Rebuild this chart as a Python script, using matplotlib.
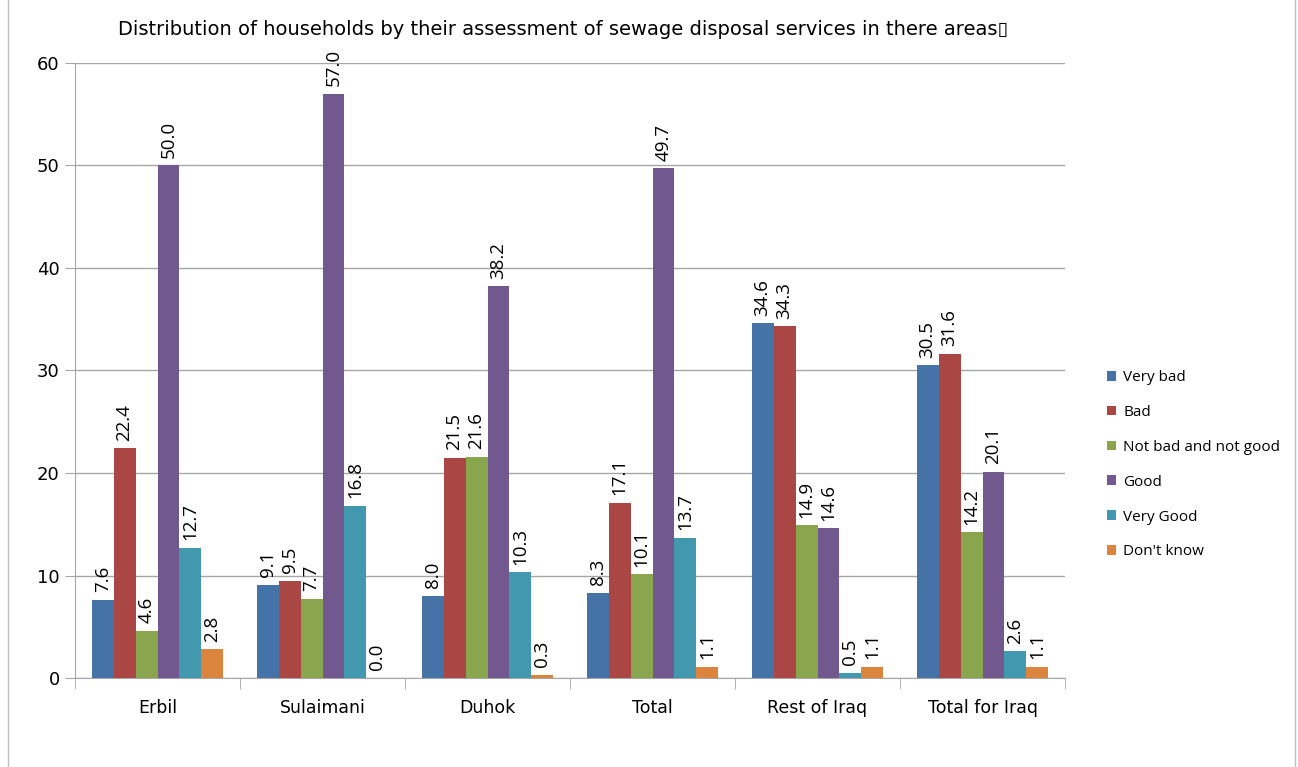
"""Households' assessment of sewage disposal services, grouped bar chart
"""
import matplotlib.pyplot as plt
import matplotlib.patches as mpatches
import numpy as np

regions = ['Erbil', 'Sulaimani', 'Duhok', 'Total', 'Rest of Iraq', 'Total for Iraq']
series_names = ['Very bad', 'Bad', 'Not bad and not good', 'Good', 'Very Good', "Don't know"]

very_bad = [7.6, 9.1, 8.0, 8.3, 34.6, 30.5]
bad = [22.4, 9.5, 21.5, 17.1, 34.3, 31.6]
not_bad_not_good = [4.6, 7.7, 21.6, 10.1, 14.9, 14.2]
good = [50.0, 57.0, 38.2, 49.7, 14.6, 20.1]
very_good = [12.7, 16.8, 10.3, 13.7, 0.5, 2.6]
dont_know = [2.8, 0.0, 0.3, 1.1, 1.1, 1.1]

colors = ['#4572A7', '#AA4643', '#89A54E', '#71588F', '#4198AF', '#DB843D']
series = [very_bad, bad, not_bad_not_good, good, very_good, dont_know]

fig = plt.figure(figsize=(12.98, 7.67), dpi=100)
ax = fig.add_axes([0.0578, 0.116, 0.7627, 0.802])

# outer chart frame
fig.patches.append(mpatches.Rectangle((0.006, -0.01), 0.992, 1.02, transform=fig.transFigure,
                                      fill=False, edgecolor='#bfbfbf', linewidth=1))

x = np.arange(len(regions))
width = 0.133
for i, (vals, name, col) in enumerate(zip(series, series_names, colors)):
    pos = x + (i - 2.5) * width
    ax.bar(pos, vals, width=width, color=col, label=name, zorder=3)
    for px, v in zip(pos, vals):
        ax.annotate(f'{v:.1f}', (px, v), xytext=(0, 5.5), textcoords='offset points',
                    rotation=90, ha='center', va='bottom', fontsize=13.5,
                    family='Open Sans', color='black')

ax.set_xlim(-0.5, len(regions) - 0.5)
ax.set_ylim(0, 60)
ax.set_yticks(range(0, 61, 10))
ax.yaxis.grid(True, color='#a6a6a6', linewidth=1, zorder=0)
ax.set_axisbelow(True)
ax.set_xticks(x)
ax.set_xticklabels(regions, fontsize=12.5, family='DejaVu Sans')
ax.set_xticks(np.arange(len(regions) + 1) - 0.5, minor=True)
ax.tick_params(axis='x', which='major', length=0, pad=15)
ax.tick_params(axis='x', which='minor', length=8, color='#a6a6a6')
ax.tick_params(axis='y', length=7, color='#a6a6a6', labelsize=13, pad=4)
for lbl in ax.get_yticklabels():
    lbl.set_family('DejaVu Sans')

for s in ['top', 'right']:
    ax.spines[s].set_visible(False)
for s in ['left', 'bottom']:
    ax.spines[s].set_color('#a6a6a6')

fig.text(0.434, 0.962, 'Distribution of households by their assessment of sewage disposal services in there areas\u25af',
         ha='center', va='center', fontsize=14, family='DejaVu Sans')

handles, labels = ax.get_legend_handles_labels()
fig.legend(handles, labels, loc='center left', bbox_to_anchor=(0.842, 0.394), frameon=False,
           handlelength=0.6, handleheight=0.6, handletextpad=0.5, labelspacing=1.3,
           prop={'family': 'Open Sans', 'size': 11})

plt.savefig('out.png')
